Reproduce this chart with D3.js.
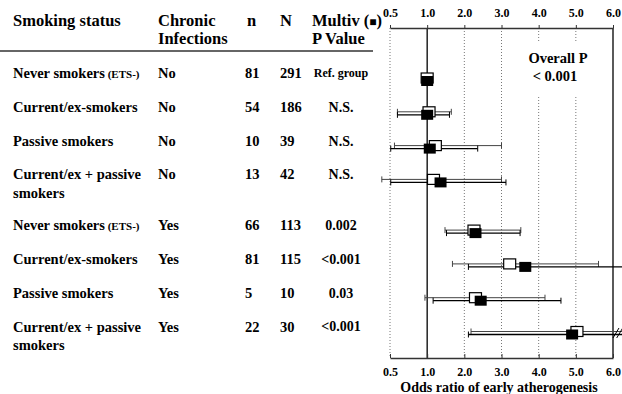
<!DOCTYPE html>
<html>
<head>
<meta charset="utf-8">
<script src="https://cdn.jsdelivr.net/npm/d3@7"></script>
<style>
  html, body { margin: 0; padding: 0; background: #fff; }
  svg { display: block; }
  text { font-family: "Liberation Serif", "Times New Roman", serif; font-weight: bold; fill: #000; }
</style>
</head>
<body>
<svg id="chart" width="622" height="394"></svg>
<script>
// ---------- DATA ----------
const statusMain = ["Never smokers", "Current/ex-smokers", "Passive smokers", "Current/ex + passive",
                    "Never smokers", "Current/ex-smokers", "Passive smokers", "Current/ex + passive"];
const statusSuffix = ["(ETS-)", "", "", "", "(ETS-)", "", "", ""];
const statusLine2 = ["", "", "", "smokers", "", "", "", "smokers"];
const infections = ["No", "No", "No", "No", "Yes", "Yes", "Yes", "Yes"];
const nValues = [81, 54, 10, 13, 66, 81, 5, 22];
const NValues = [291, 186, 39, 42, 113, 115, 10, 30];
const pValues = ["Ref. group", "N.S.", "N.S.", "N.S.", "0.002", "<0.001", "0.03", "<0.001"];

// multivariate (filled squares)
const orMultiv = [1.0, 1.0, 1.07, 1.36, 2.3, 3.64, 2.44, 4.9];
const loMultiv = [null, 0.6, 0.51, 0.51, 1.52, 2.11, 1.16, 2.11];
const hiMultiv = [null, 1.6, 2.36, 3.12, 3.5, 6.25, 4.6, 6.25];
// univariate (open squares)
const orUniv = [1.0, 1.05, 1.22, 1.17, 2.26, 3.22, 2.3, 5.03];
const loUniv = [null, 0.6, 0.56, 0.39, 1.48, 1.68, 0.97, 2.18];
const hiUniv = [null, 1.65, 3.0, 3.0, 3.52, 5.61, 4.17, 6.25];

const tickValues = [0.5, 1, 2, 3, 4, 5, 6];
const headers = ["Smoking status", "Chronic|Infections", "n", "N", "Multiv (\u25A0)|P Value"];
const axisTitle = "Odds ratio of early atherogenesis";
const overallP = ["Overall P", "< 0.001"];

// ---------- LAYOUT ----------
const svg = d3.select("#chart");
const slots = [0, 1, 2, 3, 4.5, 5.5, 6.5, 7.5];
const yRow = d3.scaleLinear().domain([0, 7.5]).range([73, 326.5]);
const plotTop = 28, plotBottom = 358;
const x = d3.scaleLinear()
  .domain(tickValues)
  .range(tickValues.map((d, i) => 390 + i * (613 - 390) / 6));

const colX = { status: 13, chronic: 158, n: 245, N: 280, p: 341 };

// ---------- TABLE ----------
const hdr = svg.append("g").style("font-size", "16.5px");
const hdrX = [colX.status, colX.chronic, 247, colX.N, 312];
headers.forEach((h, i) => {
  h.split("|").forEach((line, j) => {
    const t = hdr.append("text").attr("x", hdrX[i]).attr("y", 20 + j * 18).attr("dy", "0.35em");
    if (line.includes("\u25A0")) {
      t.text("Multiv (");
      t.append("tspan").style("font-size", "12px").text("\u25A0");
      t.append("tspan").text(")");
    } else {
      t.text(line);
    }
  });
});
svg.append("line").attr("x1", 0).attr("x2", 373).attr("y1", 51).attr("y2", 51)
  .attr("stroke", "#333").attr("stroke-width", 1.5);

const rows = svg.append("g").style("font-size", "14.5px");
statusMain.forEach((s, i) => {
  const y = yRow(slots[i]);
  const t = rows.append("text").attr("x", colX.status).attr("y", y).attr("dy", "0.35em").text(s);
  if (statusSuffix[i]) t.append("tspan").style("font-size", "11px").text(" " + statusSuffix[i]);
  if (statusLine2[i]) rows.append("text").attr("x", colX.status).attr("y", y + 18.5).attr("dy", "0.35em").text(statusLine2[i]);
  rows.append("text").attr("x", colX.chronic).attr("y", y).attr("dy", "0.35em").text(infections[i]);
  rows.append("text").attr("x", colX.n).attr("y", y).attr("dy", "0.35em").text(nValues[i]);
  rows.append("text").attr("x", colX.N).attr("y", y).attr("dy", "0.35em").text(NValues[i]);
  rows.append("text").attr("x", colX.p).attr("y", y).attr("dy", "0.35em").attr("text-anchor", "middle")
    .style("font-size", pValues[i] === "Ref. group" ? "12px" : "14px").text(pValues[i]);
});

// ---------- PLOT ----------
const plot = svg.append("g");
// grid lines
tickValues.forEach(v => {
  const solid = (v === 1 || v === 6);
  plot.append("line").attr("x1", x(v)).attr("x2", x(v)).attr("y1", plotTop).attr("y2", plotBottom)
    .attr("stroke", solid ? "#000" : "#777")
    .attr("stroke-width", solid ? 1.3 : 1)
    .attr("stroke-dasharray", solid ? null : "1,2");
});

// Overall P label with white backing
plot.append("rect").attr("x", x(3.55)).attr("y", 42).attr("width", x(5.6) - x(3.55)).attr("height", 54).attr("fill", "#fff");
plot.append("text").attr("x", 558).attr("y", 58).attr("dy", "0.35em").attr("text-anchor", "middle")
  .style("font-size", "14.5px").text(overallP[0]);
plot.append("text").attr("x", 555).attr("y", 76).attr("dy", "0.35em").attr("text-anchor", "middle")
  .style("font-size", "14.5px").text(overallP[1]);

// axes
const axTop = d3.axisTop(x).tickValues(tickValues).tickFormat(d3.format(".1f")).tickSize(3).tickPadding(8).tickSizeOuter(0);
const axBot = d3.axisBottom(x).tickValues(tickValues).tickFormat(d3.format(".1f")).tickSize(-4).tickPadding(9).tickSizeOuter(0);
const gTop = svg.append("g").attr("transform", `translate(0,${plotTop})`).call(axTop);
const gBot = svg.append("g").attr("transform", `translate(0,${plotBottom})`).call(axBot);
[gTop, gBot].forEach(g => {
  g.select(".domain").attr("stroke", "#333").attr("stroke-width", 1.5);
  g.selectAll(".tick line").attr("stroke", "#333");
  g.selectAll(".tick text").style("font-family", "'Liberation Serif', serif").style("font-weight", "bold")
    .style("font-size", "12px").attr("fill", "#000");
});
svg.append("text").attr("x", 499).attr("y", 387).attr("dy", "0.35em").attr("text-anchor", "middle")
  .style("font-size", "14px").text(axisTitle);

// CI lines + squares
const sqW = 12, sqH = 10, cap = 3;
function ciLine(lo, hi, y, color, w) {
  if (lo == null) return;
  plot.append("line").attr("x1", x(lo)).attr("x2", x(hi)).attr("y1", y).attr("y2", y)
    .attr("stroke", color).attr("stroke-width", w);
  [lo, hi].forEach(v => {
    if (v > 6) return;
    plot.append("line").attr("x1", x(v)).attr("x2", x(v)).attr("y1", y - cap).attr("y2", y + cap)
      .attr("stroke", color).attr("stroke-width", 1);
  });
}
orUniv.forEach((v, i) => {
  const yc = yRow(slots[i]) + 5;
  ciLine(loUniv[i], hiUniv[i], yc, "#444", 1);
});
orMultiv.forEach((v, i) => {
  const yc = yRow(slots[i]) + 8;
  ciLine(loMultiv[i], hiMultiv[i], yc, "#000", 1.3);
});
orUniv.forEach((v, i) => {
  const yc = yRow(slots[i]) + 5;
  plot.append("rect").attr("x", x(v) - sqW / 2).attr("y", yc - sqH / 2).attr("width", sqW).attr("height", sqH)
    .attr("fill", "#fff").attr("stroke", "#000").attr("stroke-width", 1.2);
});
orMultiv.forEach((v, i) => {
  const yc = yRow(slots[i]) + 8;
  plot.append("rect").attr("x", x(v) - sqW / 2).attr("y", yc - sqH / 2).attr("width", sqW).attr("height", sqH)
    .attr("fill", "#000");
});
// break marks for CIs beyond 6.0 on the last row
{
  const i = 7, yc = yRow(slots[i]) + 6.5;
  [6.08, 6.18].forEach(v => {
    plot.append("line").attr("x1", x(v) - 3).attr("x2", x(v) + 3).attr("y1", yc + 5).attr("y2", yc - 5)
      .attr("stroke", "#000").attr("stroke-width", 1);
  });
}
</script>
</body>
</html>
